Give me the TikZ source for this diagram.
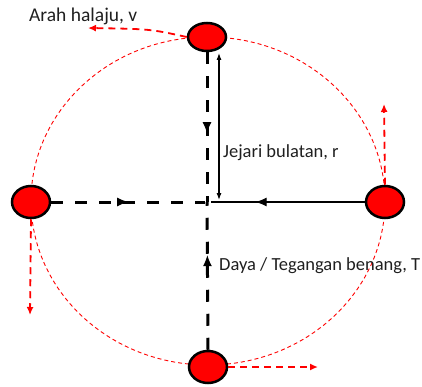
\documentclass[tikz,border=0pt]{standalone}
\usepackage{fontspec}
\setmainfont{Carlito}
\usetikzlibrary{shapes.geometric,arrows.meta,decorations.markings}
\tikzset{
  ball/.style={ellipse,draw=black,line width=2.5pt,fill=red,minimum width=38pt,minimum height=32pt,inner sep=0pt},
  orbit/.style={draw=red,line width=0.9pt,dash pattern=on 4pt off 3pt},
  velo/.style={draw=red,line width=1.8pt,dash pattern=on 7pt off 5pt,-{Latex[length=8pt,width=7pt]}},
  tens/.style={draw=black,line width=3pt,dash pattern=on 12pt off 12pt},
  tenssolid/.style={draw=black,line width=2.2pt},
  midarrow/.style={postaction={decorate},decoration={markings,mark=at position #1 with {\arrow[line width=1pt]{Latex[length=11pt,width=9pt]}}}},
  radius arrow/.style={draw=black,line width=1.1pt,{Latex[length=7pt,width=5pt]}-{Latex[length=7pt,width=5pt]}},
  lbl/.style={anchor=base west,inner sep=0pt,font=\fontsize{18.5}{21}\selectfont,text=black!88}
}
\begin{document}
\begin{tikzpicture}[x=1pt,y=-1pt]
\useasboundingbox (0,0) rectangle (422,387);
% orbit
\draw[orbit] (208,201) ellipse [x radius=177, y radius=164];
% centre
\coordinate (O) at (207,202);
\coordinate (Ol) at (205,202);
\coordinate (Or) at (211,202);
% balls
\node[ball,minimum height=28pt] (top) at (207,37) {};
\node[ball] (right) at (385,202) {};
\node[ball] (left) at (31,202) {};
\node[ball] (bottom) at (208,367) {};
% tension lines
\draw[tens,midarrow=0.54] (top.south) -- (O);
\draw[tens,midarrow=0.64] (bottom.north) -- (O);
\draw[tens,midarrow=0.5] (left.east) -- (Ol);
\draw[tenssolid,midarrow=0.71] (right.west) -- (Or);
% radius arrow
\coordinate (rtop) at (219,53);
\coordinate (rbot) at (219,200);
\draw[radius arrow] (rtop) -- (rbot);
% velocity arrows
\coordinate (vtop) at (88,28);
\coordinate (vright) at (384,104);
\coordinate (vleft) at (30,315);
\coordinate (vbottom) at (318,367);
\draw[velo] (top.west) .. controls (150,29) .. (vtop);
\draw[velo] (right.north) -- (vright);
\draw[velo] (left.south) -- (vleft);
\draw[velo] (bottom.east) -- (vbottom);
% labels
\node[lbl,font=\fontsize{19.5}{22}\selectfont] (lv) at (29,22) {Arah halaju, v};
\node[lbl] (lr) at (223,158) {Jejari bulatan, r};
\node[lbl] (lt) at (219,270) {Daya / Tegangan benang, T};
\end{tikzpicture}
\end{document}
